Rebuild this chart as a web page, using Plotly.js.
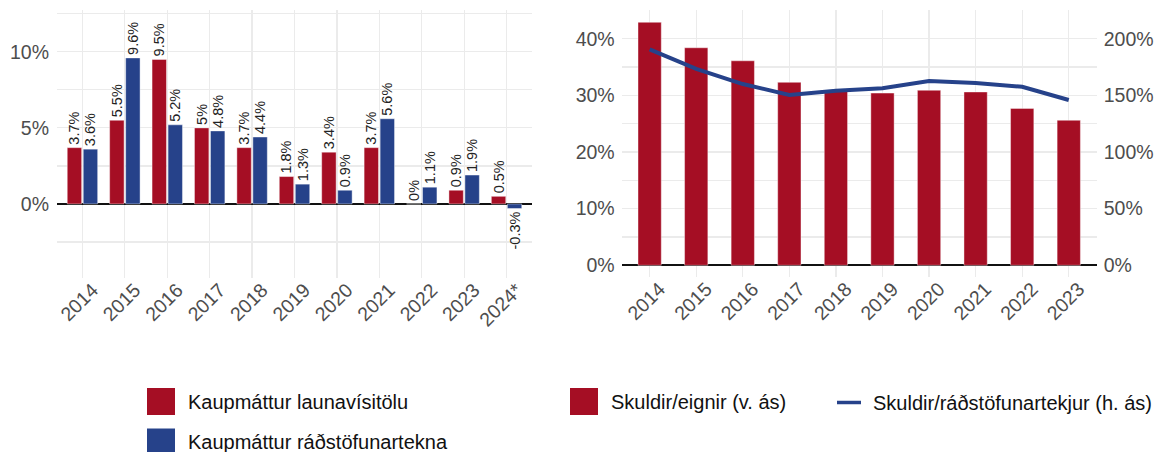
<!DOCTYPE html>
<html>
<head>
<meta charset="utf-8">
<script src="https://cdn.plot.ly/plotly-3.0.1.min.js"></script>
<style>html,body{margin:0;padding:0;background:#fff}#chart{width:1159px;height:452px}</style>
</head>
<body>
<div id="chart"></div>
<script>
// Left chart data
const yearsLeft = ['2014','2015','2016','2017','2018','2019','2020','2021','2022','2023','2024*'];
const launaVisitala = [3.7, 5.5, 9.5, 5, 3.7, 1.8, 3.4, 3.7, 0, 0.9, 0.5];
const radstofunartekjur = [3.6, 9.6, 5.2, 4.8, 4.4, 1.3, 0.9, 5.6, 1.1, 1.9, -0.3];
const leftYTicks = [0, 5, 10];
const leftYTickLabels = ['0%', '5%', '10%'];

// Right chart data
const yearsRight = ['2014','2015','2016','2017','2018','2019','2020','2021','2022','2023'];
const skuldirEignir = [42.9, 38.4, 36.1, 32.3, 30.7, 30.4, 30.9, 30.6, 27.7, 25.6];
const skuldirTekjur = [190.6, 173.3, 160.0, 150.3, 154.1, 156.2, 162.7, 160.9, 157.6, 145.9];
const rightY1Ticks = [0, 10, 20, 30, 40];
const rightY1TickLabels = ['0%', '10%', '20%', '30%', '40%'];
const rightY2Ticks = [0, 50, 100, 150, 200];
const rightY2TickLabels = ['0%', '50%', '100%', '150%', '200%'];

const names = ['Kaupmáttur launavísitölu', 'Kaupmáttur ráðstöfunartekna', 'Skuldir/eignir (v. ás)', 'Skuldir/ráðstöfunartekjur (h. ás)'];

const RED = '#a50e24';
const BLUE = '#26428a';
const GRID = '#ebebeb';
const TICKC = '#4d4d4d';
const FONT = 'Liberation Sans, Arial, sans-serif';

const pct = v => String(v) + '%';

const labelFont = {family:FONT, size:14.5, color:'#222'};
const traces = [
  {type:'bar', x: yearsLeft, y: launaVisitala, name: names[0], xaxis:'x', yaxis:'y',
   marker:{color:RED, line:{color:'rgba(255,255,255,0.7)', width:0.6}},
   text: launaVisitala.map(pct), textposition:'outside', textangle:-90, cliponaxis:false,
   constraintext:'none', textfont:labelFont, outsidetextfont:labelFont, showlegend:false, hoverinfo:'x+y'},
  {type:'bar', x: yearsLeft, y: radstofunartekjur, name: names[1], xaxis:'x', yaxis:'y',
   marker:{color:BLUE, line:{color:'rgba(255,255,255,0.7)', width:0.6}},
   text: radstofunartekjur.map(pct), textposition:'outside', textangle:-90, cliponaxis:false,
   constraintext:'none', textfont:labelFont, outsidetextfont:labelFont, showlegend:false, hoverinfo:'x+y'},
  {type:'bar', x: yearsRight, y: skuldirEignir, name: names[2], xaxis:'x2', yaxis:'y3', width:0.5,
   marker:{color:RED, line:{color:'rgba(255,255,255,0.7)', width:0.6}}, showlegend:false},
  {type:'scatter', mode:'lines', x: yearsRight, y: skuldirTekjur, name: names[3], xaxis:'x2', yaxis:'y4',
   line:{color:BLUE, width:4}, showlegend:false}
];

const W = 1159, H = 452;
const px = v => v / W;
const py = v => 1 - v / H;

const axisCommon = {
  showgrid:true, gridcolor:GRID, gridwidth:1.2, ticks:'', showline:false,
  tickfont:{family:FONT, size:19.5, color:TICKC}, fixedrange:true
};

const layout = {
  width: W, height: H,
  margin:{l:0, r:0, t:0, b:0},
  paper_bgcolor:'#fff', plot_bgcolor:'#fff',
  barmode:'group', bargap:0.245, bargroupgap:0.1,
  font:{family:FONT},
  xaxis: Object.assign({}, axisCommon, {domain:[px(57), px(532)], anchor:'y', type:'category',
    range:[-0.6, 10.6], tickangle:-45, zeroline:false, ticklabelshift:10, ticklabelstandoff:-4}),
  yaxis: Object.assign({}, axisCommon, {domain:[py(278), py(10)], anchor:'x',
    range:[-4.87, 12.75], tickvals:leftYTicks, ticktext:leftYTickLabels,
    zeroline:true, zerolinecolor:'#111', zerolinewidth:1.6, ticklabelstandoff:7,
    minor:{dtick:2.5, tick0:0, showgrid:true, gridcolor:GRID, gridwidth:1.2}}),
  xaxis2: Object.assign({}, axisCommon, {domain:[px(621.7), px(1096.7)], anchor:'y3', type:'category',
    range:[-0.6, 9.6], tickangle:-45, zeroline:false, ticklabelshift:10, ticklabelstandoff:-4}),
  yaxis3: Object.assign({}, axisCommon, {domain:[py(277), py(10)], anchor:'x2',
    range:[-2.07, 45.07], tickvals:rightY1Ticks, ticktext:rightY1TickLabels,
    zeroline:true, zerolinecolor:'#111', zerolinewidth:1.6, ticklabelstandoff:6,
    minor:{dtick:5, tick0:0, showgrid:true, gridcolor:GRID, gridwidth:1.2}}),
  yaxis4: Object.assign({}, axisCommon, {overlaying:'y3', side:'right', anchor:'x2',
    range:[-10.35, 225.35], tickvals:rightY2Ticks, ticktext:rightY2TickLabels,
    showgrid:false, zeroline:false, ticklabelstandoff:6}),
  shapes: [], annotations: []
};

// Custom legend (large square swatches like the reference)
const legendItems = [
  {name:names[0], kind:'box', color:RED, x:147, y:401.5},
  {name:names[1], kind:'box', color:BLUE, x:147, y:442},
  {name:names[2], kind:'box', color:RED, x:570, y:401.5},
  {name:names[3], kind:'line', color:BLUE, x:837, y:402.5}
];
legendItems.forEach(it => {
  if (it.kind === 'box') {
    layout.shapes.push({type:'rect', xref:'paper', yref:'paper',
      x0:px(it.x), x1:px(it.x+28), y0:py(it.y+13.5), y1:py(it.y-13.5),
      fillcolor:it.color, line:{width:0}});
  } else {
    layout.shapes.push({type:'line', xref:'paper', yref:'paper',
      x0:px(it.x), x1:px(it.x+24), y0:py(it.y), y1:py(it.y),
      line:{color:it.color, width:3.5}});
  }
  layout.annotations.push({xref:'paper', yref:'paper', x:px(it.x + (it.kind==='box'?39:34)), y:py(it.y),
    xanchor:'left', yanchor:'middle', showarrow:false, text:it.name,
    font:{family:FONT, size:20, color:'#111'}});
});

Plotly.newPlot('chart', traces, layout, {displayModeBar:false, staticPlot:true});
</script>
</body>
</html>
